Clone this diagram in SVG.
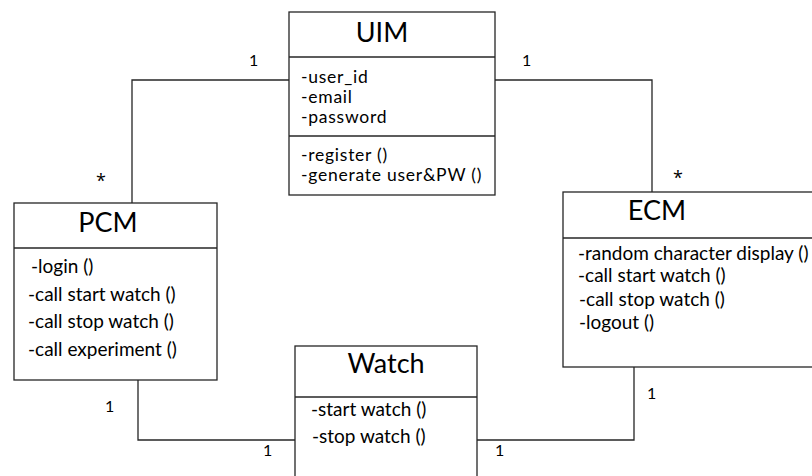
<svg xmlns="http://www.w3.org/2000/svg" width="812" height="476" viewBox="0 0 812 476">
<style>
.box{fill:#fff;stroke:#262626;stroke-width:1.3}
.ln{fill:none;stroke:#262626;stroke-width:1.3}
.t{font-family:Lato,"Open Sans",sans-serif;font-size:27px;fill:#000;text-anchor:middle}
.a{font-family:Lato,"Open Sans",sans-serif;font-size:19px;fill:#000}
.u{font-family:Lato,"Open Sans",sans-serif;font-size:17.5px;letter-spacing:0.75px;fill:#000}
.m{font-family:Lato,"Open Sans",sans-serif;font-size:16px;fill:#000}
.s{font-family:"Open Sans",sans-serif;font-size:18px;fill:#000}
</style>
<rect width="812" height="476" fill="#fff"/>
<g id="connectors">
<polyline class="ln" points="289,80 132,80 132,203"/>
<polyline class="ln" points="495,80 652,80 652,192"/>
<polyline class="ln" points="138,380 138,440 295,440"/>
<polyline class="ln" points="477,440 634,440 634,367"/>
<text class="m" x="249" y="66">1</text>
<text class="m" x="522" y="66">1</text>
<text class="s" x="96" y="187">*</text>
<text class="s" x="673" y="184">*</text>
<text class="m" x="105" y="412">1</text>
<text class="m" x="263" y="456">1</text>
<text class="m" x="495" y="456">1</text>
<text class="m" x="647" y="399">1</text>
</g>
<g id="UIM">
<rect class="box" x="289" y="12" width="206" height="183"/>
<line class="ln" x1="289" y1="57" x2="495" y2="57"/>
<line class="ln" x1="289" y1="136" x2="495" y2="136"/>
<text class="t" x="382" y="42">UIM</text>
<text class="u" x="301" y="83">-user_id</text>
<text class="u" x="301" y="103">-email</text>
<text class="u" x="301" y="123">-password</text>
<text class="u" x="301" y="161">-register ()</text>
<text class="u" x="301" y="181">-generate user&amp;PW ()</text>
</g>
<g id="PCM">
<rect class="box" x="14" y="203" width="203" height="177"/>
<line class="ln" x1="14" y1="248" x2="217" y2="248"/>
<text class="t" x="108" y="232">PCM</text>
<text class="a" x="31" y="273">-login ()</text>
<text class="a" x="28" y="301">-call start watch ()</text>
<text class="a" x="28" y="328">-call stop watch ()</text>
<text class="a" x="28" y="356">-call experiment ()</text>
</g>
<g id="ECM">
<rect class="box" x="563" y="192" width="260" height="175"/>
<line class="ln" x1="563" y1="238" x2="812" y2="238"/>
<text class="t" x="657" y="220">ECM</text>
<text class="a" x="578" y="260">-random character display ()</text>
<text class="a" x="578" y="282">-call start watch ()</text>
<text class="a" x="579" y="306">-call stop watch ()</text>
<text class="a" x="579" y="329">-logout ()</text>
</g>
<g id="Watch">
<rect class="box" x="295" y="346" width="182" height="140"/>
<line class="ln" x1="295" y1="397" x2="477" y2="397"/>
<text class="t" x="386" y="373">Watch</text>
<text class="a" x="311" y="416">-start watch ()</text>
<text class="a" x="312" y="443">-stop watch ()</text>
</g>
</svg>
